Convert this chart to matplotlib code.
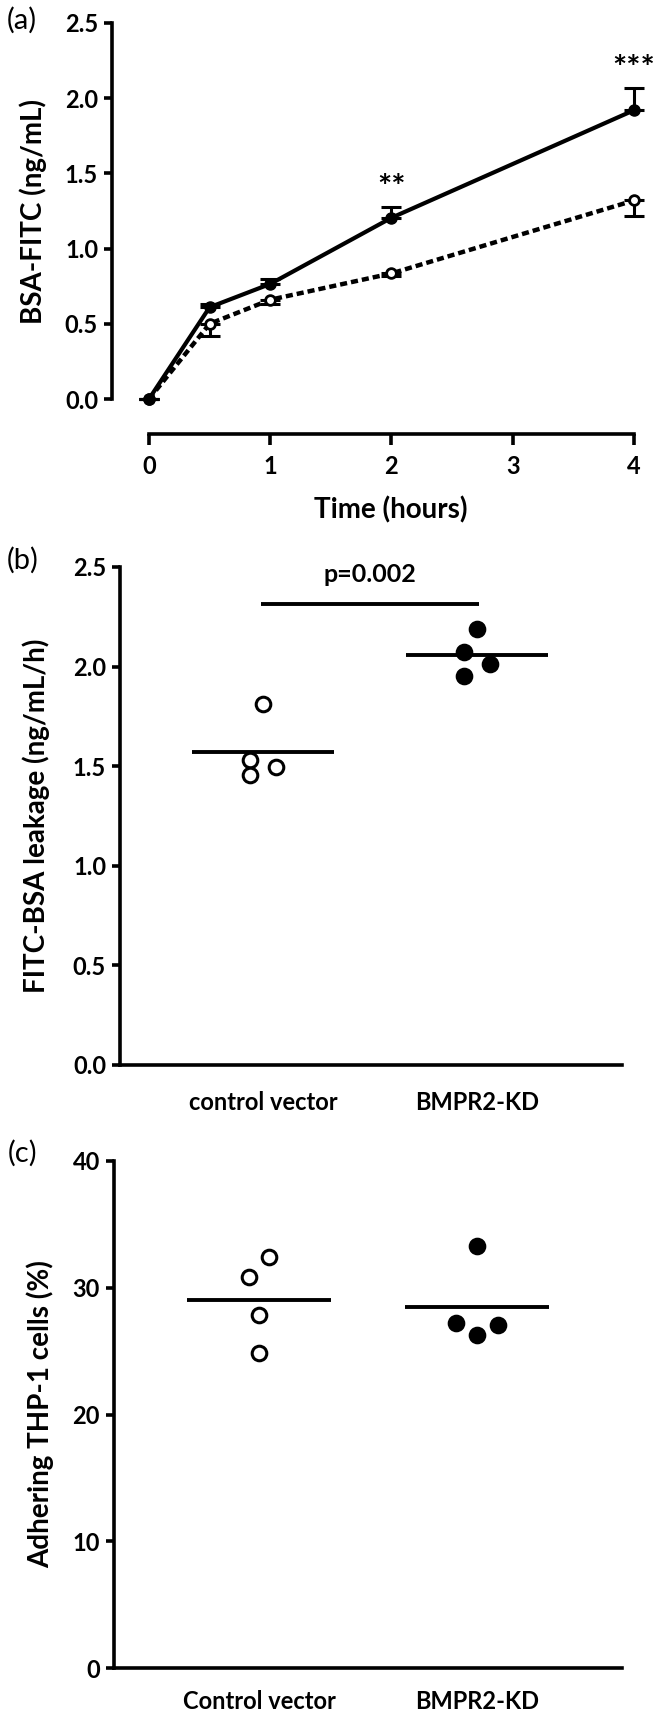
import matplotlib
matplotlib.use('Agg')
import matplotlib.pyplot as plt
import numpy as np

plt.rcParams['font.family'] = ['Lato', 'DejaVu Sans']
plt.rcParams['font.weight'] = 'bold'

# ---------------- data ----------------
# panel (a)
time_h = [0, 0.5, 1, 2, 4]
kd_mean = [0.0, 0.61, 0.765, 1.205, 1.92]
kd_err = [0.0, 0.02, 0.03, 0.07, 0.15]
ctrl_mean = [0.0, 0.50, 0.66, 0.835, 1.32]
ctrl_err = [0.0, 0.08, 0.03, 0.02, 0.10]
a_xticks = [0, 1, 2, 3, 4]
a_yticks = [0.0, 0.5, 1.0, 1.5, 2.0, 2.5]
sig_times = [2, 4]
sig_labels = ['**', '***']

# panel (b)
groups_b = ['control vector', 'BMPR2-KD']
leak_ctrl = [1.81, 1.53, 1.456, 1.496]
leak_kd = [2.19, 2.075, 1.955, 2.013]
b_yticks = [0.0, 0.5, 1.0, 1.5, 2.0, 2.5]
p_label = 'p=0.002'

# panel (c)
groups_c = ['Control vector', 'BMPR2-KD']
adh_ctrl = [32.45, 30.87, 27.85, 24.83]
adh_kd = [33.3, 27.19, 26.3, 27.1]
c_yticks = [0, 10, 20, 30, 40]

# ---------------- layout helpers ----------------
W, H = 663, 1716
fig = plt.figure(figsize=(W / 100, H / 100), dpi=100)


def rect(l, r, t, b):
    return [l / W, 1 - b / H, (r - l) / W, (b - t) / H]


def ftext(x, y, s, **kw):
    fig.text(x / W, 1 - y / H, s, **kw)


SPW = 2.6
TICKFS = 17
LABFS = 20


def style(ax):
    for s in ['top', 'right']:
        ax.spines[s].set_visible(False)
    for s in ['left', 'bottom']:
        ax.spines[s].set_linewidth(SPW)
    ax.tick_params(axis='y', direction='out', length=6, width=SPW, pad=4,
                   labelsize=TICKFS)


# ---------------- panel (a) ----------------
axa = fig.add_axes(rect(112, 646, 23, 434))
style(axa)
axa.set_xlim(-0.305, 4.099)
axa.set_ylim(-0.2327, 2.5)
axa.spines['left'].set_bounds(0, 2.5)
axa.spines['bottom'].set_bounds(0, 4)
axa.set_xticks(a_xticks)
axa.set_xticklabels([str(t) for t in a_xticks])
axa.set_yticks(a_yticks)
axa.set_yticklabels([f'{v:.1f}' for v in a_yticks])
axa.tick_params(axis='x', direction='out', length=8, width=SPW, pad=7,
                labelsize=TICKFS)

zeros = [0] * len(time_h)
axa.errorbar(time_h, ctrl_mean, yerr=[ctrl_err, zeros], fmt='none',
             ecolor='black', elinewidth=2.2, capsize=7, capthick=2.2, zorder=3)
axa.plot(time_h, ctrl_mean, ls=(0, (1.6, 0.9)), lw=3.2, color='black',
         marker='o', ms=7, mfc='white', mec='black', mew=2, zorder=4)
axa.errorbar(time_h, kd_mean, yerr=[zeros, kd_err], fmt='none',
             ecolor='black', elinewidth=2.2, capsize=7, capthick=2.2, zorder=5)
axa.plot(time_h, kd_mean, ls='-', lw=3.0, color='black',
         marker='o', ms=8, mfc='black', mec='black', zorder=6)
for t, lab in zip(sig_times, sig_labels):
    i = time_h.index(t)
    axa.text(t, kd_mean[i] + kd_err[i] + 0.06, lab, ha='center',
             va='baseline', fontsize=24, fontweight='bold', clip_on=False)

ftext(33, 211, 'BSA-FITC (ng/mL)', rotation=90, ha='center', va='center',
      fontsize=LABFS)
ftext(391, 510, 'Time (hours)', ha='center', va='center', fontsize=LABFS)
ftext(22, 20, '(a)', ha='center', va='center', fontsize=21, fontweight='normal')

# ---------------- dot plot helper ----------------
def dotplot(ax, groups, vals_list, offsets_list, half_w):
    for i, (vals, offs) in enumerate(zip(vals_list, offsets_list)):
        pos = i + 1
        xs = [pos + o for o in offs]
        filled = (i == 1)
        ax.plot(xs, vals, ls='none', marker='o', ms=10.5,
                mfc='black' if filled else 'white', mec='black', mew=2.2,
                zorder=4)
        m = np.mean(vals)
        ax.plot([pos - half_w, pos + half_w], [m, m], color='black', lw=2.8,
                solid_capstyle='butt', zorder=3)
    ax.set_xticks([1, 2])
    ax.set_xticklabels(groups)


# ---------------- panel (b) ----------------
axb = fig.add_axes(rect(120, 622, 567, 1065))
style(axb)
axb.set_xlim(0.332, 2.678)
axb.set_ylim(0, 2.5)
axb.set_yticks(b_yticks)
axb.set_yticklabels([f'{v:.1f}' for v in b_yticks])
axb.tick_params(axis='x', length=0, pad=19, labelsize=TICKFS)
b_offsets = [[0.0, -0.06, -0.06, 0.06], [0.0, -0.06, -0.06, 0.06]]
dotplot(axb, groups_b, [leak_ctrl, leak_kd], b_offsets, 0.33)
axb.plot([0.99, 2.01], [2.314, 2.314], color='black', lw=2.8,
         solid_capstyle='butt', clip_on=False)
axb.text(1.5, 2.46, p_label, ha='center', va='center', fontsize=18,
         clip_on=False)
ftext(36, 816, 'FITC-BSA leakage (ng/mL/h)', rotation=90, ha='center',
      va='center', fontsize=LABFS)
ftext(23, 560, '(b)', ha='center', va='center', fontsize=21, fontweight='normal')

# ---------------- panel (c) ----------------
axc = fig.add_axes(rect(114, 622, 1161, 1668))
style(axc)
axc.set_xlim(0.335, 2.665)
axc.set_ylim(0, 40)
axc.set_yticks(c_yticks)
axc.set_yticklabels([str(v) for v in c_yticks])
axc.tick_params(axis='x', length=0, pad=16, labelsize=TICKFS)
c_offsets = [[0.046, -0.046, 0.0, 0.0], [0.0, -0.096, 0.0, 0.096]]
dotplot(axc, groups_c, [adh_ctrl, adh_kd], c_offsets, 0.33)
ftext(40, 1414, 'Adhering THP-1 cells (%)', rotation=90, ha='center',
      va='center', fontsize=LABFS)
ftext(23, 1153, '(c)', ha='center', va='center', fontsize=21, fontweight='normal')

fig.savefig('out.png', dpi=100)
